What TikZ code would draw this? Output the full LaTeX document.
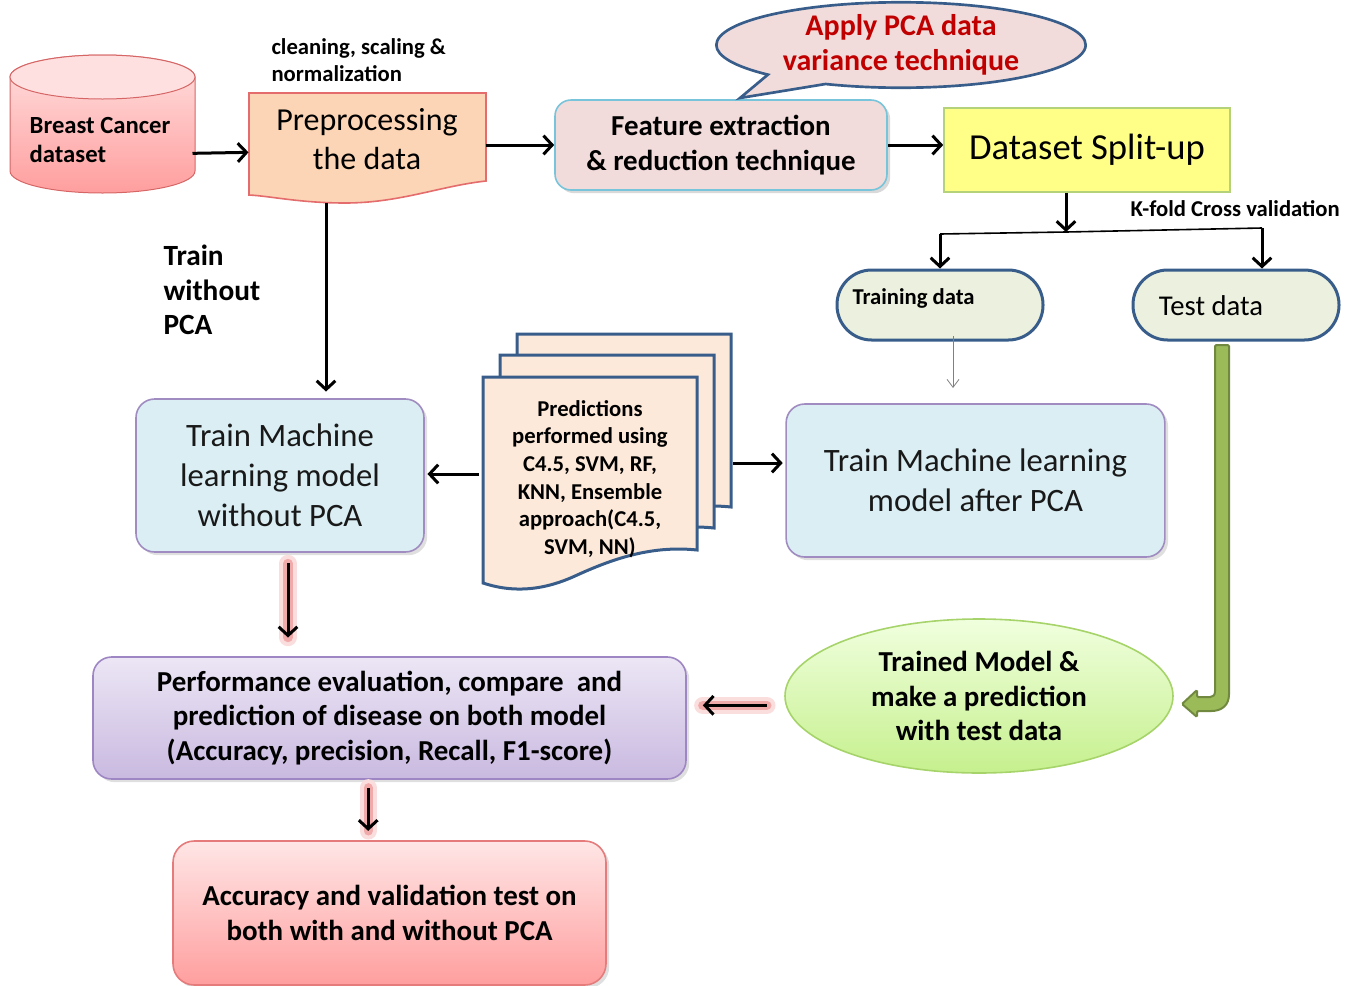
\documentclass[tikz,border=0pt]{standalone}
\usepackage{fontspec}
\setmainfont{Carlito}
\usetikzlibrary{arrows.meta,shapes.geometric,shapes.callouts,shadows}
\tikzset{every picture/.style={line width=0.75pt}}

\definecolor{cylTop}{RGB}{255,224,224}
\definecolor{cylBot}{RGB}{255,158,158}
\definecolor{cylLine}{RGB}{214,102,102}
\definecolor{prepFill}{RGB}{251,213,181}
\definecolor{prepLine}{RGB}{228,108,108}
\definecolor{featFill}{RGB}{242,220,219}
\definecolor{featLine}{RGB}{120,196,218}
\definecolor{navy}{RGB}{56,93,138}
\definecolor{pcaRed}{RGB}{192,0,0}
\definecolor{splitFill}{RGB}{255,255,136}
\definecolor{splitLine}{RGB}{180,210,122}
\definecolor{dataFill}{RGB}{235,241,222}
\definecolor{modelFill}{RGB}{218,238,243}
\definecolor{modelLine}{RGB}{160,140,192}
\definecolor{predFill}{RGB}{253,233,217}
\definecolor{ellTop}{RGB}{240,255,222}
\definecolor{ellBot}{RGB}{198,240,142}
\definecolor{ellLine}{RGB}{166,212,106}
\definecolor{perfTop}{RGB}{236,230,245}
\definecolor{perfBot}{RGB}{201,185,224}
\definecolor{perfLine}{RGB}{157,134,195}
\definecolor{accTop}{RGB}{255,230,230}
\definecolor{accBot}{RGB}{255,158,158}
\definecolor{accLine}{RGB}{229,123,123}
\definecolor{gFill}{RGB}{155,187,89}
\definecolor{gLine}{RGB}{113,137,63}
\definecolor{glowOut}{RGB}{250,222,222}
\definecolor{glowIn}{RGB}{240,170,170}

\tikzset{
  arr/.style={line width=2.25pt, -{Straight Barb[length=6.5pt,width=14pt]}},
  glow/.style={line width=13pt, draw=glowOut, line cap=round,
    preaction={draw=glowOut}, postaction={draw=glowIn, line width=7pt}},
  thinarr/.style={draw=gray, line width=0.6pt, -{Straight Barb[length=6pt,width=9pt]}},
  bigtxt/.style={font=\fontsize{24.5}{30}\selectfont},
  boldtxt/.style={font=\fontsize{21.7}{26}\selectfont\bfseries},
  smalltxt/.style={font=\fontsize{17}{20.5}\selectfont\bfseries},
  modelbox/.style={draw=modelLine, fill=modelFill, rounded corners=14pt, line width=1.2pt,
    drop shadow={opacity=0.25}, align=center, bigtxt, text=black!90},
  databox/.style={draw=navy, fill=dataFill, rounded corners=26pt, line width=2.25pt,
    minimum width=154.5pt, minimum height=52.5pt},
  docpage/.style={draw=navy, fill=predFill, line width=2.25pt}
}

\begin{document}
\begin{tikzpicture}[x=0.75pt,y=0.75pt,yscale=-1,xscale=1]
\useasboundingbox (0,0) rectangle (1354,986);

%Shape: Cylinder (dataset)
\draw [draw=cylLine, top color=cylTop, bottom color=cylBot] (10,77) -- (10,171) arc [start angle=180, end angle=0, x radius=92.5, y radius=22] -- (195,77) arc [start angle=0, end angle=-180, x radius=92.5, y radius=22] -- cycle ;
\draw [draw=cylLine, fill=cylTop] (102.5,77) ellipse [x radius=92.5, y radius=22] ;
\node [font=\fontsize{18.5}{22}\selectfont\bfseries, align=left, minimum width=138pt] (dataset) at (100,140) {Breast Cancer\\dataset};

%Shape: Document (preprocessing)
\draw [draw=prepLine, fill=prepFill, line width=1.2pt] (249,93) -- (486,93) -- (486,181) .. controls (440,186) and (400,203) .. (345,203) .. controls (300,203) and (270,196) .. (249,195) -- cycle ;
\node [font=\fontsize{24}{29}\selectfont, align=center, minimum width=177pt, minimum height=70pt] (prep) at (367,139) {Preprocessing\\the data};
\node [smalltxt, align=left, anchor=west, inner sep=0pt] (clean) at (271,60) {cleaning, scaling \&\\normalization};

%Feature extraction box
\node [draw=featLine, fill=featFill, rounded corners=12pt, line width=1.2pt, drop shadow={opacity=0.3},
  minimum width=249pt, minimum height=67.5pt, align=center, boldtxt] (feature) at (721,145)
  {Feature extraction\\\& reduction technique};

%Callout (PCA)
\node [ellipse callout, callout absolute pointer={(740,98)}, callout pointer arc=22, draw=navy, fill=featFill,
  line width=2pt, minimum width=277pt, minimum height=55pt, inner sep=0pt, align=center,
  font=\fontsize{22.5}{26}\selectfont\bfseries, text=pcaRed] (pca) at (901,45) {Apply PCA data\\variance technique};

%Split-up box
\node [draw=splitLine, fill=splitFill, line width=1.2pt, minimum width=214.5pt, minimum height=63pt,
  font=\fontsize{27.5}{33}\selectfont] (split) at (1087,150) {Dataset Split-up};
\node [smalltxt, anchor=west, inner sep=0pt] (kfold) at (1130,209) {K-fold Cross validation};

%Training / test data
\node [databox] (training) at (940,305) {};
\node [smalltxt, anchor=west, inner sep=0pt] (traintxt) at (852,298) {Training data};
\node [databox] (test) at (1236,305) {};
\node [font=\fontsize{21.5}{25}\selectfont] (testtxt) at (1211,306) {Test data};

%Model boxes
\node [modelbox, minimum width=216pt, minimum height=114.75pt] (trainwo) at (280,475.5)
  {Train Machine\\learning model\\without PCA};
\node [modelbox, minimum width=284pt, minimum height=114.75pt] (trainpca) at (975.5,480.5)
  {Train Machine learning\\model after PCA};
\node [font=\fontsize{22}{26}\selectfont\bfseries, align=left, anchor=west, inner sep=0pt] (nopca) at (163,290) {Train\\without\\PCA};

%Stacked documents (predictions)
\foreach \dx/\dy in {34/-43,17/-22,0/0}{
  \draw [docpage, shift={(\dx,\dy)}] (483,377) -- (697,377) -- (697,550) .. controls (650,545) and (610,560) .. (575,576) .. controls (540,592) and (510,592) .. (483,583) -- cycle ;
}
\node [font=\fontsize{17}{20.7}\selectfont\bfseries, align=center] (preds) at (590,479)
  {Predictions\\performed using\\C4.5, SVM, RF,\\KNN, Ensemble\\approach(C4.5,\\SVM, NN)};

%Trained model ellipse
\node [ellipse, draw=ellLine, top color=ellTop, bottom color=ellBot, line width=1.2pt, minimum width=291pt,
  minimum height=115.5pt, inner sep=0pt, align=center, boldtxt] (trained) at (979,696)
  {Trained Model \&\\make a prediction\\with test data};

%Performance box
\node [draw=perfLine, top color=perfTop, bottom color=perfBot, rounded corners=14pt, line width=1.2pt,
  drop shadow={opacity=0.25}, minimum width=444.75pt, minimum height=91.5pt, align=center,
  font=\fontsize{21.7}{26}\selectfont\bfseries] (perf) at (389.5,718)
  {Performance evaluation, compare~ and\\prediction of disease on both model\\(Accuracy, precision, Recall, F1-score)};

%Accuracy box
\node [draw=accLine, top color=accTop, bottom color=accBot, rounded corners=16pt, line width=1.2pt,
  drop shadow={opacity=0.25}, minimum width=324.75pt, minimum height=108pt, align=center,
  font=\fontsize{21.7}{26}\selectfont\bfseries] (acc) at (389.5,913)
  {Accuracy and validation test on\\both with and without PCA};

%Coordinates
\coordinate (prepB) at (326,203);
\coordinate (fork) at (1066,232);
\coordinate (forkL) at (940,234);
\coordinate (forkR) at (1262,228);
\coordinate (thinEnd) at (953,388);
\coordinate (predsL) at (479,474);
\coordinate (predsR) at (733,463);

%Glow under the red arrows
\draw [glow, shorten <=8pt, shorten >=14pt] ([xshift=6pt]trainwo.south) -- ([xshift=6pt]trainwo.south |- perf.north) ;
\draw [glow, shorten <=13pt, shorten >=12pt] ([yshift=7pt]trained.west) -- ([yshift=7pt]trained.west -| perf.east) ;
\draw [glow, shorten <=6pt, shorten >=7pt] ([xshift=-16pt]perf.south) -- ([xshift=-16pt]perf.south |- acc.north) ;

%Connectors
\draw [arr] ([yshift=10pt]dataset.east) -- ([yshift=10pt]prep.west) ;
\draw [arr] (prep.east |- feature.west) -- (feature.west) ;
\draw [arr] (feature.east) -- (feature.east -| split.west) ;
\draw [arr] (split.south -| fork) -- (fork) ;
\draw [line width=1.2pt] (forkL) -- (fork) -- (forkR) ;
\draw [arr] (forkL) -- (forkL |- training.north) ;
\draw [arr] (forkR) -- (forkR |- test.north) ;
\draw [thinarr] ([yshift=-4pt]training.south -| thinEnd) -- (thinEnd) ;
\draw [arr, shorten >=5pt] (prepB) -- (prepB |- trainwo.north) ;
\draw [arr, shorten >=2pt] (predsL) -- (trainwo.east |- predsL) ;
\draw [arr, shorten >=2pt] (predsR) -- (trainpca.west |- predsR) ;
\draw [arr, shorten <=8pt, shorten >=14pt] ([xshift=6pt]trainwo.south) -- ([xshift=6pt]trainwo.south |- perf.north) ;
\draw [arr, shorten <=13pt, shorten >=12pt] ([yshift=7pt]trained.west) -- ([yshift=7pt]trained.west -| perf.east) ;
\draw [arr, shorten <=6pt, shorten >=7pt] ([xshift=-16pt]perf.south) -- ([xshift=-16pt]perf.south |- acc.north) ;

%Block arrow: test data to trained model
\draw [draw=gLine, fill=gFill, line width=1.5pt, rounded corners=1pt] (1215,345) -- (1229,345) -- (1229,693) .. controls (1229,705) and (1222,711) .. (1210,711) -- (1197,711) -- (1197,717) -- (1182,704) -- (1197,690) -- (1197,697) -- (1209,697) .. controls (1213,697) and (1215,695) .. (1215,690) -- cycle ;

\end{tikzpicture}
\end{document}
